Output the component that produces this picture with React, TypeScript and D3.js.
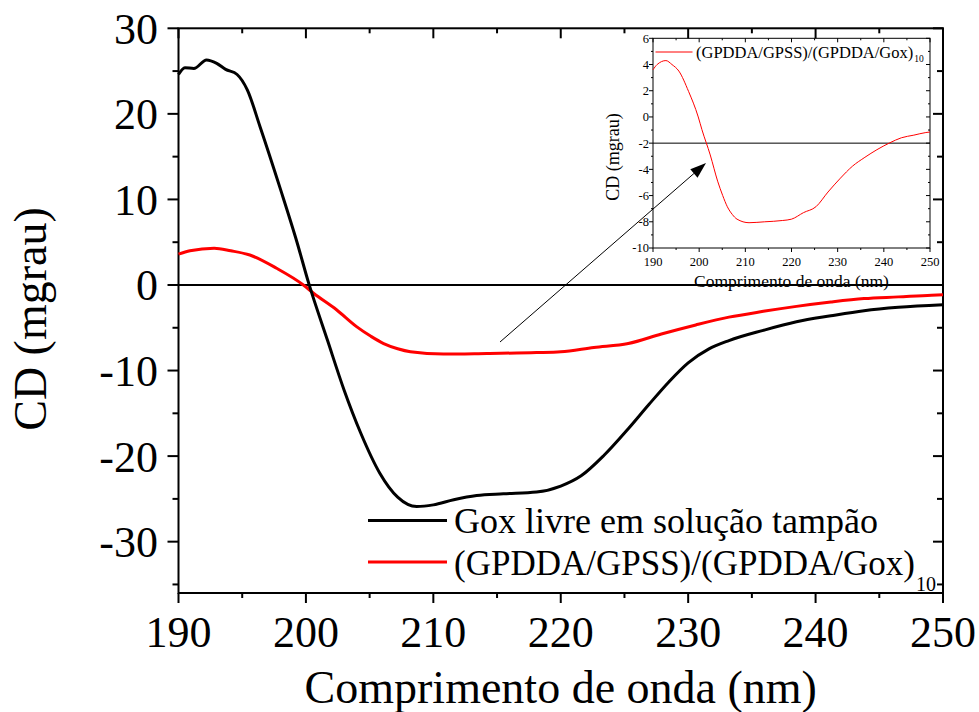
import React from 'react';
import * as d3 from 'd3';

// Gox livre em solução tampão (black)
const goxWl = [190, 190.5, 191.2, 192.2, 193, 193.7, 194.6, 195.4, 196.4, 198, 199.3, 200.2, 201.7, 203, 204.3, 205.8, 207.2, 208.7, 210, 211.6, 213.4, 215.5, 218.1, 220, 221.6, 223.4, 225.3, 226.9, 228.5, 230, 231.6, 233.2, 235.9, 238.5, 241.2, 243.8, 246.5, 250];
const goxCd = [24.6, 25.4, 25.3, 26.3, 25.9, 25.2, 24.6, 22.8, 18.5, 11.2, 5.0, 0.3, -6.5, -12.3, -17.3, -22.0, -24.8, -25.9, -25.7, -25.1, -24.6, -24.4, -24.2, -23.5, -22.3, -19.9, -16.8, -14.0, -11.3, -9.1, -7.5, -6.5, -5.3, -4.3, -3.6, -3.0, -2.6, -2.3];

// (GPDDA/GPSS)/(GPDDA/Gox)10 film (red)
const filmWl = [190, 190.9, 192.8, 194.1, 195.6, 197.7, 199.8, 200.6, 202.4, 204, 205.1, 206.1, 207.2, 208.2, 210.8, 214.2, 218.1, 220, 222.6, 225.3, 227.9, 230.6, 233.2, 235.9, 238.5, 241.2, 243.8, 246.5, 249.1, 250];
const filmCd = [3.6, 4.0, 4.3, 4.0, 3.5, 1.95, 0, -0.97, -2.9, -4.9, -6.0, -6.85, -7.45, -7.8, -8.07, -8.0, -7.9, -7.8, -7.3, -6.85, -5.73, -4.67, -3.76, -3.08, -2.5, -1.99, -1.59, -1.39, -1.19, -1.15];

const xTicks = [190, 200, 210, 220, 230, 240, 250];
const yTicks = [-30, -20, -10, 0, 10, 20, 30];
const insetYTicks = [-10, -8, -6, -4, -2, 0, 2, 4, 6];
const legendLabels = ['Gox livre em solução tampão', '(GPDDA/GPSS)/(GPDDA/Gox)'];
const legendSub = '10';
const xTitle = 'Comprimento de onda (nm)';
const yTitle = 'CD (mgrau)';

const FONT = "'Liberation Serif', 'DejaVu Serif', 'Times New Roman', serif";

const App = () => {
  const x = d3.scaleLinear().domain([190, 250]).range([178.5, 943]);
  const y = d3.scaleLinear().domain([-36, 30]).range([593, 28.3]);
  const xi = d3.scaleLinear().domain([190, 250]).range([653, 930]);
  const yi = d3.scaleLinear().domain([-10, 6]).range([248, 38.3]);

  const goxPts = goxWl.map((w, i) => [w, goxCd[i]] as [number, number]);
  const filmPts = filmWl.map((w, i) => [w, filmCd[i]] as [number, number]);

  const mainLine = d3.line<[number, number]>()
    .x(d => x(d[0])).y(d => y(d[1]))
    .curve(d3.curveMonotoneX);
  const insetLine = d3.line<[number, number]>()
    .x(d => xi(d[0])).y(d => yi(d[1]))
    .curve(d3.curveMonotoneX);

  const xMinor = d3.range(195, 250, 10);
  const yMinor = d3.range(-35, 30, 10);
  const xiMinor = d3.range(195, 250, 10);
  const yiMinor = d3.range(-9, 6, 2);

  const [x0, x1] = x.range();
  const [yb, yt] = y.range();
  const [xi0, xi1] = xi.range();
  const [yib, yit] = yi.range();

  // arrow from main plot into inset
  const ax0 = 500, ay0 = 342, ax1 = 706, ay1 = 163;
  const ang = Math.atan2(ay1 - ay0, ax1 - ax0);
  const hl = 16, hw = 5.5;
  const bx = ax1 - hl * Math.cos(ang), by = ay1 - hl * Math.sin(ang);
  const head = [
    [ax1, ay1],
    [bx + hw * Math.sin(ang), by - hw * Math.cos(ang)],
    [bx - hw * Math.sin(ang), by + hw * Math.cos(ang)],
  ].map(p => p.join(',')).join(' ');

  return (
    <svg width={979} height={712} style={{ position: 'absolute', left: 0, top: 0, background: '#fff', fontFamily: FONT }}>
      {/* main frame ticks */}
      <g stroke="#000" strokeWidth={2}>
        {xTicks.map(t => (
          <g key={'xt' + t}>
            <line x1={x(t)} x2={x(t)} y1={yb} y2={yb + 10} />
            <line x1={x(t)} x2={x(t)} y1={yt} y2={yt + 10} />
          </g>
        ))}
        {xMinor.map(t => (
          <g key={'xm' + t}>
            <line x1={x(t)} x2={x(t)} y1={yb} y2={yb + 5} />
            <line x1={x(t)} x2={x(t)} y1={yt} y2={yt + 5} />
          </g>
        ))}
        {yTicks.map(t => (
          <g key={'yt' + t}>
            <line x1={x0 - 11} x2={x0} y1={y(t)} y2={y(t)} />
            <line x1={x1 - 10} x2={x1} y1={y(t)} y2={y(t)} />
          </g>
        ))}
        {yMinor.map(t => (
          <g key={'ym' + t}>
            <line x1={x0 - 6} x2={x0} y1={y(t)} y2={y(t)} />
            <line x1={x1 - 6} x2={x1} y1={y(t)} y2={y(t)} />
          </g>
        ))}
        <rect x={x0} y={yt} width={x1 - x0} height={yb - yt} fill="none" />
        <line x1={x0} x2={x1} y1={y(0)} y2={y(0)} />
      </g>

      {/* main tick labels */}
      <g fontSize={44} fill="#000">
        {xTicks.map(t => (
          <text key={'xl' + t} x={x(t)} y={647} textAnchor="middle">{t}</text>
        ))}
        {yTicks.map(t => (
          <text key={'yl' + t} x={158} y={y(t)} dy="0.35em" textAnchor="end">{t}</text>
        ))}
      </g>
      <text x={(x0 + x1) / 2} y={703} fontSize={46} textAnchor="middle">{xTitle}</text>
      <text transform="translate(46,319) rotate(-90)" fontSize={46} textAnchor="middle">{yTitle}</text>

      {/* main curves */}
      <path d={mainLine(filmPts) || ''} fill="none" stroke="#ff0000" strokeWidth={3} />
      <path d={mainLine(goxPts) || ''} fill="none" stroke="#000" strokeWidth={3} />

      {/* main legend */}
      <line x1={368} x2={447} y1={520.5} y2={520.5} stroke="#000" strokeWidth={3} />
      <line x1={368} x2={447} y1={562} y2={562} stroke="#ff0000" strokeWidth={3} />
      <text x={454} y={533} fontSize={36}>{legendLabels[0]}</text>
      <text x={454} y={575} fontSize={35}>
        {legendLabels[1]}
        <tspan dx={1} dy={16} fontSize={20}>{legendSub}</tspan>
      </text>

      {/* inset */}
      <g stroke="#000" strokeWidth={1}>
        {xTicks.map(t => (
          <g key={'ixt' + t}>
            <line x1={xi(t)} x2={xi(t)} y1={yib} y2={yib + 4} />
            <line x1={xi(t)} x2={xi(t)} y1={yit} y2={yit + 4} />
          </g>
        ))}
        {xiMinor.map(t => (
          <g key={'ixm' + t}>
            <line x1={xi(t)} x2={xi(t)} y1={yib} y2={yib + 2} />
            <line x1={xi(t)} x2={xi(t)} y1={yit} y2={yit + 2} />
          </g>
        ))}
        {insetYTicks.map(t => (
          <g key={'iyt' + t}>
            <line x1={xi0 - 4} x2={xi0} y1={yi(t)} y2={yi(t)} />
            <line x1={xi1 - 4} x2={xi1} y1={yi(t)} y2={yi(t)} />
          </g>
        ))}
        {yiMinor.map(t => (
          <g key={'iym' + t}>
            <line x1={xi0 - 2} x2={xi0} y1={yi(t)} y2={yi(t)} />
            <line x1={xi1 - 2} x2={xi1} y1={yi(t)} y2={yi(t)} />
          </g>
        ))}
        <rect x={xi0} y={yit} width={xi1 - xi0} height={yib - yit} fill="none" />
        <line x1={xi0} x2={xi1} y1={yi(-2)} y2={yi(-2)} />
      </g>
      <g fontSize={12.5} fill="#000">
        {xTicks.map(t => (
          <text key={'ixl' + t} x={xi(t)} y={266} textAnchor="middle">{t}</text>
        ))}
        {insetYTicks.map(t => (
          <text key={'iyl' + t} x={649} y={yi(t)} dy="0.35em" textAnchor="end">{t}</text>
        ))}
      </g>
      <text x={(xi0 + xi1) / 2} y={287} fontSize={17.5} textAnchor="middle">{xTitle}</text>
      <text transform="translate(619,157) rotate(-90)" fontSize={18} textAnchor="middle">{yTitle}</text>
      <path d={insetLine(filmPts) || ''} fill="none" stroke="#ff0000" strokeWidth={1} />
      <line x1={655.5} x2={692.5} y1={52} y2={52} stroke="#ff0000" strokeWidth={1} />
      <text x={696} y={57.5} fontSize={16.5}>
        {legendLabels[1]}
        <tspan dx={1} dy={4.5} fontSize={9.5}>{legendSub}</tspan>
      </text>

      {/* arrow */}
      <line x1={ax0} y1={ay0} x2={bx} y2={by} stroke="#000" strokeWidth={1} />
      <polygon points={head} fill="#000" />
    </svg>
  );
};

export default App;
